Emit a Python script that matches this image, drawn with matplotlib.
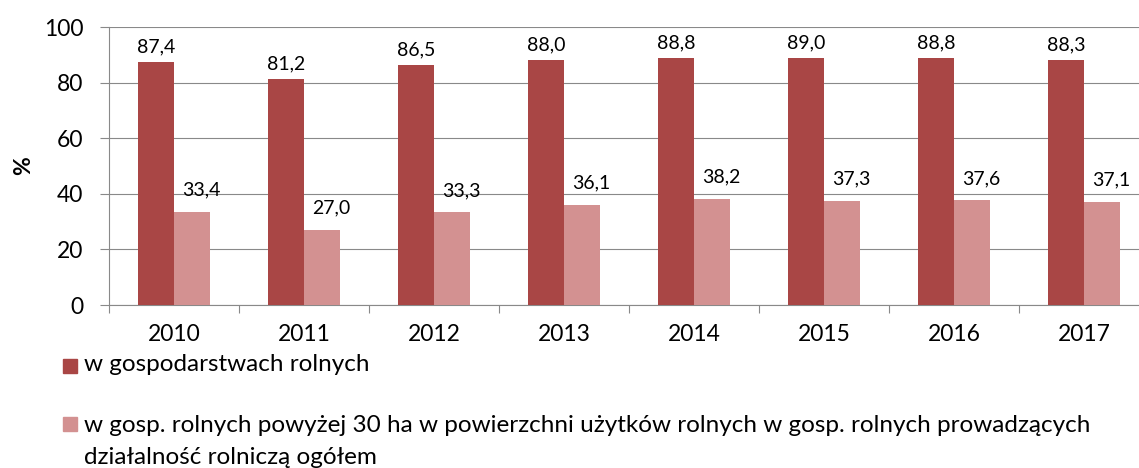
import matplotlib
matplotlib.use("Agg")
import matplotlib.pyplot as plt
from matplotlib.patches import Rectangle
import numpy as np

plt.rcParams['font.family'] = ['Lato', 'DejaVu Sans']

years = ["2010", "2011", "2012", "2013", "2014", "2015", "2016", "2017"]
series_names = [
    "w gospodarstwach rolnych",
    "w gosp. rolnych powyżej 30 ha w powierzchni użytków rolnych w gosp. rolnych prowadzących\ndziałalność rolniczą ogółem",
]
farms_all = [87.4, 81.2, 86.5, 88.0, 88.8, 89.0, 88.8, 88.3]
farms_30ha = [33.4, 27.0, 33.3, 36.1, 38.2, 37.3, 37.6, 37.1]
y_ticks = [0, 20, 40, 60, 80, 100]

colors = ["#A94645", "#D39191"]
W, H = 1139, 468
fig = plt.figure(figsize=(W / 100, H / 100), dpi=100)
ax = fig.add_axes([109 / W, 1 - 305 / H, 1040 / W, 278 / H])

x = np.arange(len(years))
bw = 0.28
ax.bar(x - bw / 2, farms_all, bw, color=colors[0], zorder=3)
ax.bar(x + bw / 2, farms_30ha, bw, color=colors[1], zorder=3)

fmt = lambda v: f"{v:.1f}".replace(".", ",")
for xi, v in zip(x, farms_all):
    ax.annotate(fmt(v), (xi - bw / 2, v), xytext=(0, 15), textcoords="offset pixels",
                ha="center", va="center", fontsize=14)
for xi, v in zip(x, farms_30ha):
    ax.annotate(fmt(v), (xi + bw / 2, v), xytext=(9, 22), textcoords="offset pixels",
                ha="center", va="center", fontsize=14)

ax.set_xlim(-0.5, len(years) - 0.5)
ax.set_ylim(0, 100)
ax.set_yticks(y_ticks)
ax.set_xticks(x)
ax.set_xticklabels(years)
ax.set_xticks(np.arange(len(years) + 1) - 0.5, minor=True)
ax.tick_params(axis="x", which="major", length=0, labelsize=16.5, pad=14)
ax.tick_params(axis="x", which="minor", length=6, width=0.8, color="#898989", direction="out")
ax.tick_params(axis="y", length=6.5, width=0.8, color="#898989", labelsize=16.5, pad=12)
ax.grid(axis="y", color="#898989", linewidth=0.8, zorder=0)
for s in ["top", "right"]:
    ax.spines[s].set_visible(False)
for s in ["left", "bottom"]:
    ax.spines[s].set_color("#898989")
    ax.spines[s].set_linewidth(0.8)
ax.set_ylabel("%", fontsize=16.5, fontweight="bold", labelpad=7)

# legend (manual, Excel-like)
marker_top = [359, 417]
text_base = [371, 432]
line_step = 32
for name, c, mt, tb in zip(series_names, colors, marker_top, text_base):
    fig.patches.append(Rectangle((63 / W, 1 - (mt + 14) / H), 14 / W, 14 / H,
                                 transform=fig.transFigure, color=c))
    for i, line in enumerate(name.split("\n")):
        fig.text(84 / W, 1 - (tb + i * line_step) / H, line, fontsize=17.5,
                 va="baseline", ha="left")

fig.savefig("out.png", dpi=100)
